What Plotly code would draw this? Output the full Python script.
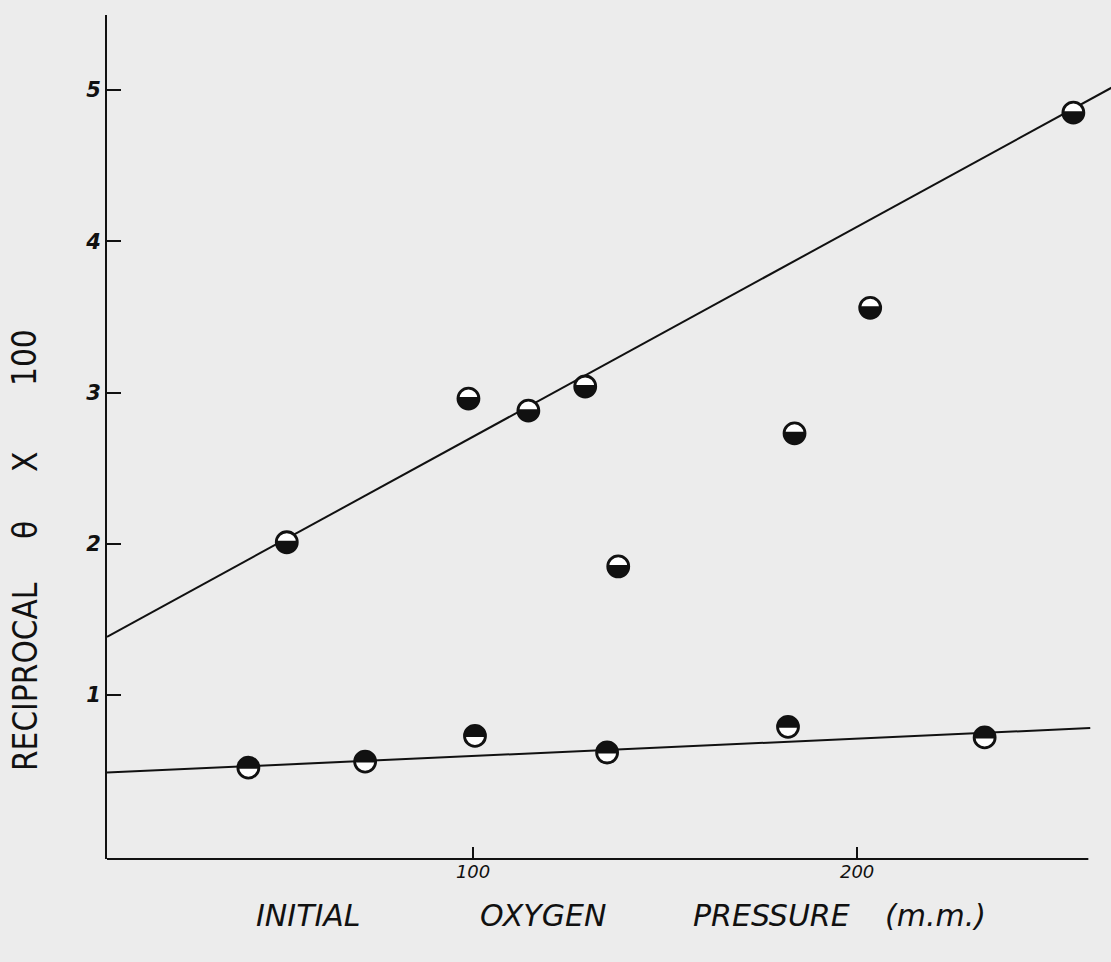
import math
import plotly.graph_objects as go

# Initial oxygen pressure (mm) and reciprocal theta x 100
upper_x = [51.5, 98.8, 114.4, 129.2, 137.8, 183.7, 203.4, 256.3]
upper_y = [2.01, 2.96, 2.88, 3.04, 1.85, 2.73, 3.56, 4.85]
lower_x = [41.5, 71.9, 100.5, 134.9, 182.0, 233.2]
lower_y = [0.52, 0.56, 0.73, 0.62, 0.79, 0.72]

# Fitted straight lines: intercept, slope
upper_fit = (1.32, 0.01388)
lower_fit = (0.482, 0.00115)
upper_fit_x = [4.69, 268.0]
lower_fit_x = [4.69, 260.7]

x_ticks = [100, 200]
y_ticks = [1, 2, 3, 4, 5]

X_RANGE = [4.69, 266.1]
Y_RANGE = [-0.084, 5.496]
X_AXIS_END = 260.2

NARROW = "Liberation Sans Narrow, DejaVu Sans Condensed, Arial Narrow, sans-serif"
WIDE = "DejaVu Sans, Verdana, sans-serif"
BG = "#ececec"
INK = "#111111"


def segment_path(r, chord, dark_below):
    """Pixel path of the filled part of a circle cut by a horizontal chord."""
    t0 = math.asin(chord / r)
    n = 28
    if dark_below:
        a, b = math.pi - t0, 2 * math.pi + t0
    else:
        a, b = t0, math.pi - t0
    pts = []
    for i in range(n + 1):
        t = a + (b - a) * i / n
        pts.append((r * math.cos(t), r * math.sin(t)))
    return "M " + " L ".join(f"{px:.2f},{py:.2f}" for px, py in pts) + " Z"


fig = go.Figure()

for xs, (b0, b1) in ((upper_fit_x, upper_fit), (lower_fit_x, lower_fit)):
    fig.add_trace(go.Scatter(
        x=xs, y=[b0 + b1 * v for v in xs], mode="lines",
        line=dict(color=INK, width=2), hoverinfo="skip", showlegend=False))

for xs, ys in ((upper_x, upper_y), (lower_x, lower_y)):
    fig.add_trace(go.Scatter(
        x=xs, y=ys, mode="markers", showlegend=False,
        marker=dict(symbol="circle", size=21, color="white",
                    line=dict(color=INK, width=2.8))))

shapes = []
R = 10.5
for xs, ys, chord, below in ((upper_x, upper_y, 1.5, True),
                             (lower_x, lower_y, -1.0, False)):
    path = segment_path(R, chord, below)
    for xv, yv in zip(xs, ys):
        shapes.append(dict(type="path", xref="x", yref="y",
                           xsizemode="pixel", ysizemode="pixel",
                           xanchor=xv, yanchor=yv, path=path,
                           fillcolor=INK, line=dict(width=0)))

# x axis drawn as a line ending short of the right edge
shapes.append(dict(type="line", xref="x", yref="paper",
                   x0=X_RANGE[0], x1=X_AXIS_END, y0=0, y1=0,
                   line=dict(color=INK, width=2)))

annotations = []
x_title_font = dict(family=WIDE, size=30, color=INK, style="italic")
for text, px in (("INITIAL", 308), ("OXYGEN", 543), ("PRESSURE", 771), ("(m.m.)", 935)):
    annotations.append(dict(text=text, xref="paper", yref="paper",
                            x=(px - 107) / 1004, y=(859 - 915) / 844,
                            xanchor="center", yanchor="middle",
                            showarrow=False, font=x_title_font))
for text, py in (("RECIPROCAL", 677), ("θ", 530), ("X", 462), ("100", 358)):
    annotations.append(dict(text=text, xref="paper", yref="paper",
                            x=(25 - 107) / 1004, y=(859 - py) / 844,
                            xanchor="center", yanchor="middle",
                            textangle=-90, showarrow=False,
                            font=dict(family=NARROW, size=33, color=INK)))

fig.update_layout(
    width=1111, height=962,
    margin=dict(l=107, r=0, t=15, b=103),
    paper_bgcolor=BG, plot_bgcolor=BG,
    shapes=shapes, annotations=annotations,
    xaxis=dict(range=X_RANGE, showgrid=False, zeroline=False, showline=False,
               tickvals=x_ticks, ticktext=[str(v) for v in x_ticks],
               ticks="inside", ticklen=12, tickwidth=2, tickcolor=INK,
               tickfont=dict(family=WIDE, size=18, color=INK, style="italic")),
    yaxis=dict(range=Y_RANGE, showgrid=False, zeroline=False, showline=True,
               linecolor=INK, linewidth=2,
               tickvals=y_ticks, ticktext=[str(v) for v in y_ticks],
               ticks="inside", ticklen=14, tickwidth=2, tickcolor=INK,
               tickfont=dict(family=WIDE, size=21, color=INK, style="italic",
                             weight="bold")),
)

fig.write_html("out.html")
